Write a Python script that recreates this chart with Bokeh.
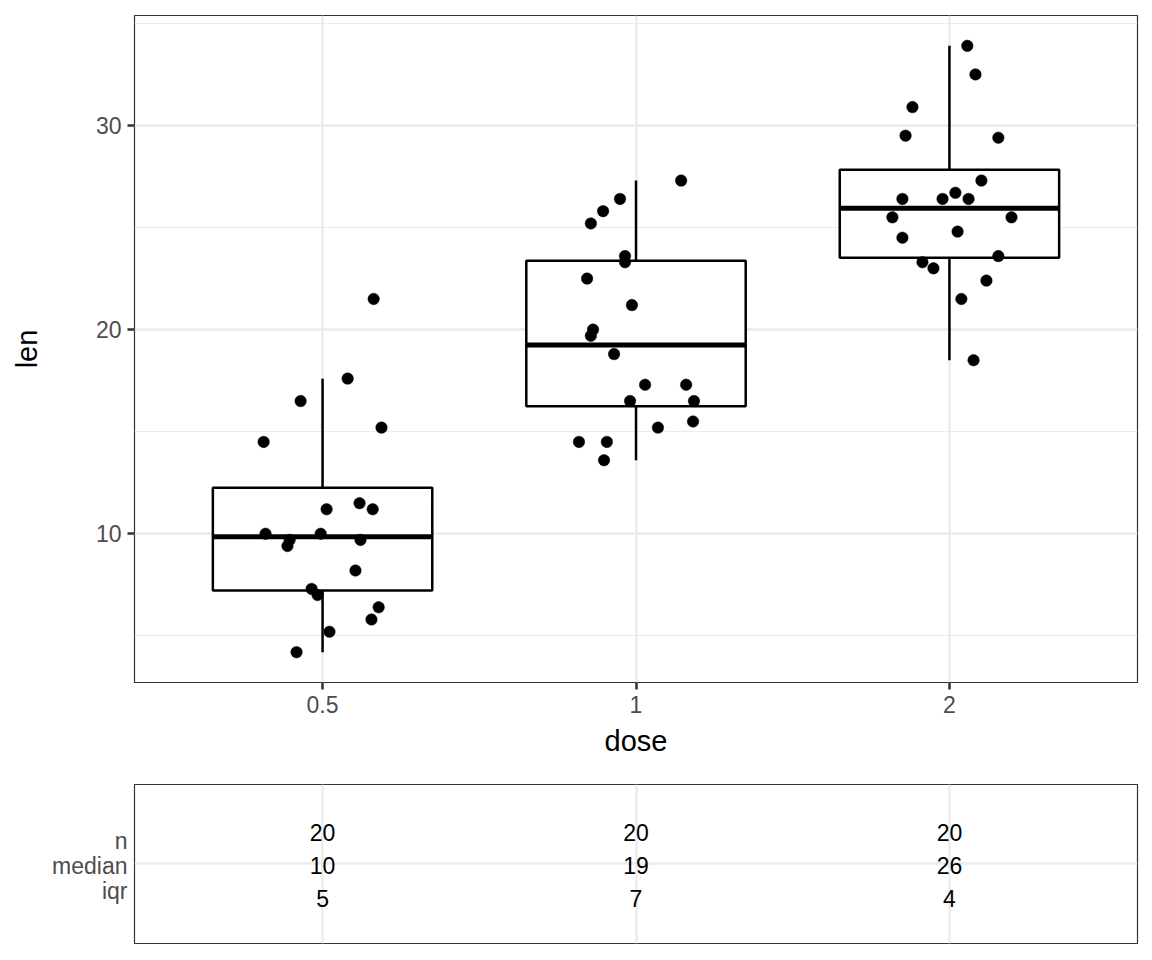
import numpy as np
from bokeh.plotting import figure
from bokeh.models import FixedTicker, Range1d, ColumnDataSource
from bokeh.layouts import column
from bokeh.embed import file_html
from bokeh.resources import INLINE
from bokeh.core.properties import value

# Tooth length by vitamin C dose, with the horizontal jitter of each point
doses = ["0.5", "1", "2"]

len_d05 = [14.5, 16.5, 17.6, 21.5, 15.2, 10.0, 9.7, 9.4, 10.0, 11.2,
           11.5, 11.2, 9.7, 8.2, 7.3, 7.0, 6.4, 5.8, 5.2, 4.2]
jit_d05 = [-0.188, -0.070, 0.080, 0.163, 0.188, -0.182, -0.105, -0.112, -0.006, 0.013,
           0.118, 0.160, 0.121, 0.105, -0.035, -0.016, 0.179, 0.156, 0.022, -0.083]

len_d1 = [27.3, 26.4, 25.8, 25.2, 23.6, 23.3, 22.5, 21.2, 20.0, 19.7,
          18.8, 17.3, 17.3, 16.5, 16.5, 15.2, 15.5, 14.5, 14.5, 13.6]
jit_d1 = [0.144, -0.051, -0.105, -0.144, -0.035, -0.035, -0.156, -0.013, -0.137, -0.144,
          -0.070, 0.029, 0.160, -0.019, 0.185, 0.070, 0.182, -0.182, -0.093, -0.102]

len_d2 = [33.9, 32.5, 30.9, 29.5, 29.4, 27.3, 26.4, 26.4, 26.7, 26.4,
          25.5, 25.5, 24.5, 24.8, 23.3, 23.0, 23.6, 22.4, 21.5, 18.5]
jit_d2 = [0.057, 0.083, -0.118, -0.140, 0.156, 0.102, -0.150, -0.022, 0.019, 0.061,
          -0.182, 0.198, -0.150, 0.026, -0.086, -0.051, 0.156, 0.118, 0.038, 0.077]

groups = [len_d05, len_d1, len_d2]
jitters = [jit_d05, jit_d1, jit_d2]

FONT = "Liberation Sans"
GRID = "#EBEBEB"
BORDER = "#333333"
TICK_TXT = "#4D4D4D"
BOX_W = 0.7
TXT = "23px"

# ---- box statistics (Tukey whiskers) ----
pos = np.arange(1, len(doses) + 1)
q1s, meds, q3s, lows, highs, ns, iqrs = [], [], [], [], [], [], []
for vals in groups:
    v = np.asarray(vals)
    q1, med, q3 = np.percentile(v, [25, 50, 75])
    iqr = q3 - q1
    q1s.append(q1); meds.append(med); q3s.append(q3)
    lows.append(v[v >= q1 - 1.5 * iqr].min())
    highs.append(v[v <= q3 + 1.5 * iqr].max())
    ns.append(len(v)); iqrs.append(iqr)

all_vals = np.concatenate([np.asarray(g) for g in groups])
span = all_vals.max() - all_vals.min()
y_lo, y_hi = all_vals.min() - 0.05 * span, all_vals.max() + 0.05 * span

# ---- main panel ----
p1 = figure(width=1152, height=770, x_range=Range1d(0.4, 3.6), y_range=Range1d(y_lo, y_hi),
            output_backend="svg", toolbar_location=None,
            min_border_left=134, min_border_right=15, min_border_top=15, min_border_bottom=88)
p1.background_fill_color = "white"
p1.border_fill_color = "white"
p1.outline_line_color = BORDER
p1.outline_line_width = 1.2

p1.xaxis.ticker = FixedTicker(ticks=list(pos))
p1.xaxis.major_label_overrides = {int(i): d for i, d in zip(pos, doses)}
p1.yaxis.ticker = FixedTicker(ticks=[10, 20, 30], minor_ticks=[5, 15, 25, 35])
p1.xgrid.ticker = FixedTicker(ticks=list(pos))

for ax in (p1.xaxis[0], p1.yaxis[0]):
    ax.axis_line_color = None
    ax.major_tick_line_color = BORDER
    ax.major_tick_line_width = 2.5
    ax.major_tick_out = 7
    ax.major_tick_in = 0
    ax.minor_tick_line_color = None
    ax.major_label_text_font = FONT
    ax.major_label_text_font_size = TXT
    ax.major_label_text_color = TICK_TXT
    ax.axis_label_text_font = FONT
    ax.axis_label_text_font_size = "29px"
    ax.axis_label_text_font_style = "normal"
    ax.axis_label_text_color = "black"
    ax.major_label_standoff = 6

p1.xaxis.axis_label = "dose"
p1.yaxis.axis_label = "len"
p1.xaxis.axis_label_standoff = 9
p1.yaxis.axis_label_standoff = 50

p1.xgrid.grid_line_color = GRID
p1.xgrid.grid_line_width = 2.3
p1.ygrid.grid_line_color = GRID
p1.ygrid.grid_line_width = 2.3
p1.ygrid.minor_grid_line_color = GRID
p1.ygrid.minor_grid_line_width = 1.2

box_src = ColumnDataSource(dict(x=pos, left=pos - BOX_W / 2, right=pos + BOX_W / 2,
                                q1=q1s, med=meds, q3=q3s, lo=lows, hi=highs))
p1.segment(x0="x", y0="q3", x1="x", y1="hi", source=box_src, line_color="black", line_width=2.5)
p1.segment(x0="x", y0="q1", x1="x", y1="lo", source=box_src, line_color="black", line_width=2.5)
p1.quad(left="left", right="right", bottom="q1", top="q3", source=box_src,
        fill_color="white", line_color="black", line_width=2.5)
p1.segment(x0="left", y0="med", x1="right", y1="med", source=box_src,
           line_color="black", line_width=5)

px, py = [], []
for i, (vals, jit) in enumerate(zip(groups, jitters)):
    for v, j in zip(vals, jit):
        px.append(pos[i] + j)
        py.append(v)
p1.scatter(x=px, y=py, size=11.5, fill_color="black", line_color="black", line_width=0.5)

# ---- summary table panel (y in pixel-like units, 0 = bottom of panel) ----
p2 = figure(width=1152, height=190, x_range=Range1d(0.4, 3.6), y_range=Range1d(0, 159),
            output_backend="svg", toolbar_location=None, x_axis_location=None,
            min_border_left=134, min_border_right=15, min_border_top=14, min_border_bottom=17)
p2.background_fill_color = "white"
p2.border_fill_color = "white"
p2.outline_line_color = BORDER
p2.outline_line_width = 1.2

row_labels = ["n", "median", "iqr"]
label_y = [103, 78, 53]
value_y = [111, 78, 45]

p2.yaxis.ticker = FixedTicker(ticks=label_y)
p2.yaxis.major_label_overrides = {y: t for y, t in zip(label_y, row_labels)}
p2.yaxis.axis_line_color = None
p2.yaxis.major_tick_line_color = None
p2.yaxis.minor_tick_line_color = None
p2.yaxis.major_label_standoff = 1
p2.yaxis.major_label_text_font = FONT
p2.yaxis.major_label_text_font_size = TXT
p2.yaxis.major_label_text_color = TICK_TXT

p2.xgrid.ticker = FixedTicker(ticks=list(pos))
p2.ygrid.ticker = FixedTicker(ticks=[80])
p2.xgrid.grid_line_color = GRID
p2.xgrid.grid_line_width = 2.3
p2.ygrid.grid_line_color = GRID
p2.ygrid.grid_line_width = 2.3

tx, ty, tt = [], [], []
for i in range(len(doses)):
    for y, s in zip(value_y, [ns[i], int(round(meds[i])), int(round(iqrs[i]))]):
        tx.append(pos[i]); ty.append(y); tt.append(str(s))
p2.text(x=tx, y=ty, text=tt, text_font=value(FONT), text_font_size=TXT,
        text_align="center", text_baseline="middle", text_color="black")

layout = column(p1, p2, spacing=0)
open("out.html", "w").write(file_html(layout, INLINE))
